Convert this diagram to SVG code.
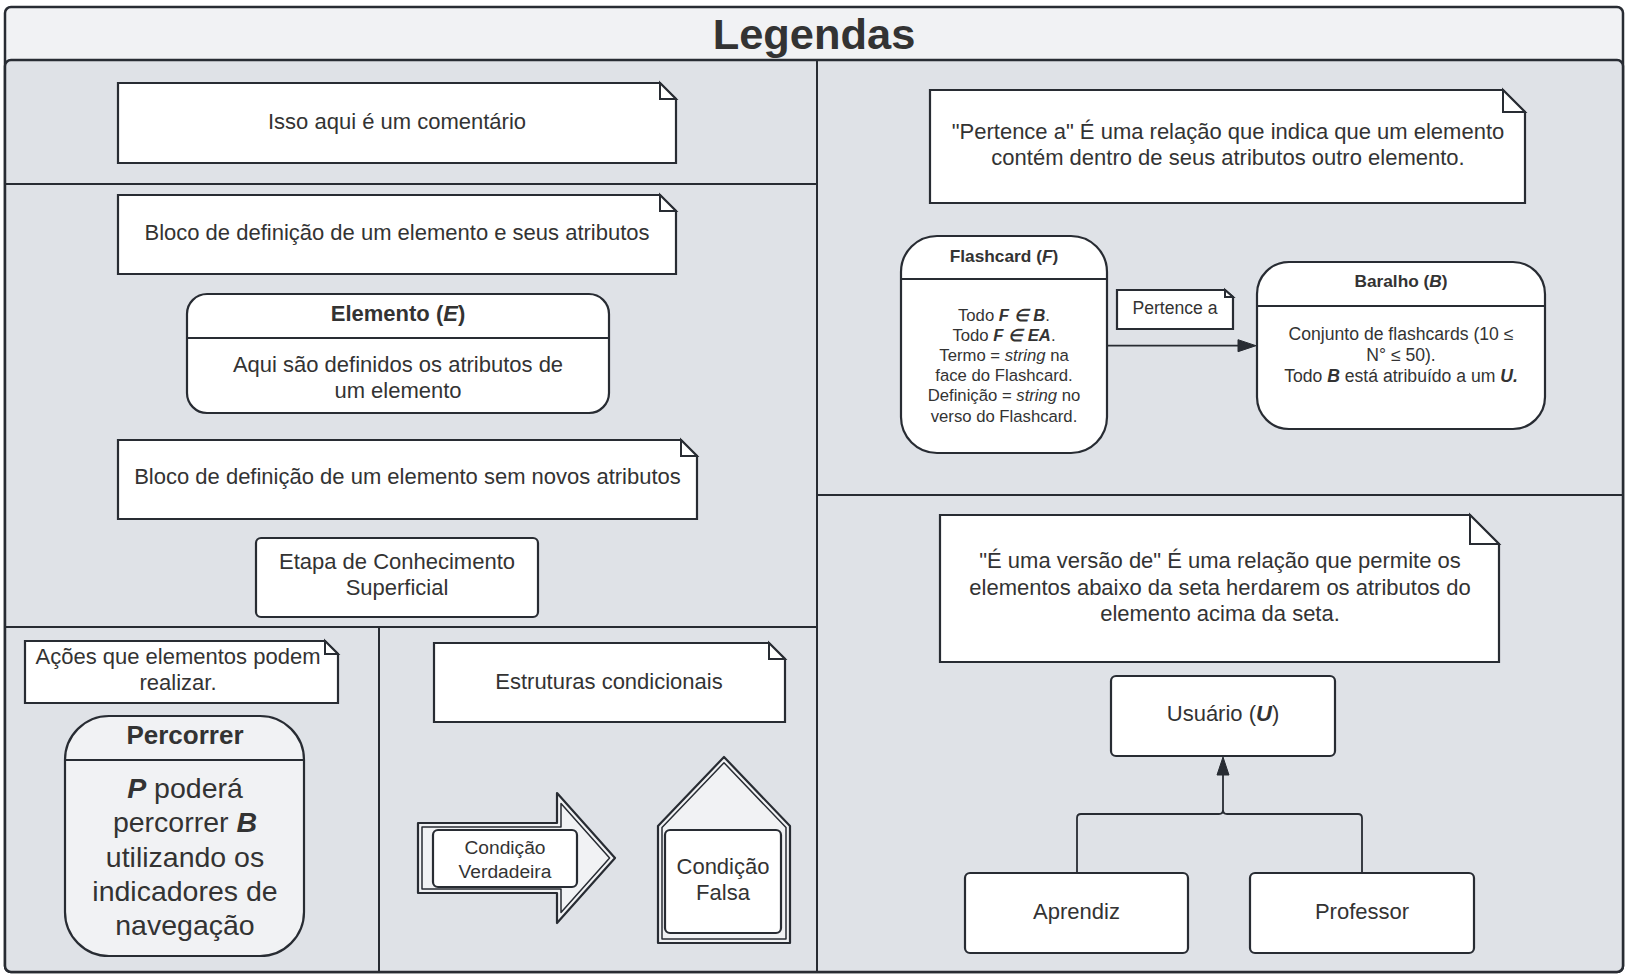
<svg xmlns="http://www.w3.org/2000/svg" width="1630" height="979" viewBox="0 0 1630 979">
<style>
text{font-family:"Liberation Sans",Arial,sans-serif;fill:#333333;text-anchor:middle}
.ln{fill:none;stroke:#282c33;stroke-width:2}
.box{fill:#ffffff;stroke:#282c33;stroke-width:2.2}
.lt{fill:#f1f2f4;stroke:#282c33;stroke-width:2.2}
.fold{fill:#ffffff;stroke:#282c33;stroke-width:2;stroke-linejoin:miter}
.con{fill:none;stroke:#282c33;stroke-width:1.8}
.ah{fill:#282c33;stroke:#282c33;stroke-width:1;stroke-linejoin:round}
.t22{font-size:22px}
.t17{font-size:17.6px}
.t16{font-size:16.7px}
.th{font-size:17.3px;font-weight:bold}
.b{font-weight:bold}
.i{font-style:italic}
.bi{font-weight:bold;font-style:italic}
</style>

<g id="frame">
<rect x="5" y="7" width="1618" height="965" rx="6" fill="#f1f2f4" stroke="#282c33" stroke-width="2.5"/>
<rect x="5" y="60" width="1618" height="912" rx="6" fill="#dfe2e7" stroke="#282c33" stroke-width="2.5"/>
<text x="814" y="49" class="b" style="font-size:43.4px">Legendas</text>
<path class="ln" d="M5,184H817M5,627H817M379,627V972M817,60V972M817,495H1623"/>
</g>

<g id="note-comentario">
<path class="box" d="M118,83H660L676,99V163H118Z"/>
<path class="fold" d="M660,83V99H676Z"/>
<text x="397" y="128.5" class="t22">Isso aqui é um comentário</text>
</g>

<g id="note-bloco-atributos">
<path class="box" d="M118,195H660L676,211V274H118Z"/>
<path class="fold" d="M660,195V211H676Z"/>
<text x="397" y="239.7" class="t22">Bloco de definição de um elemento e seus atributos</text>
</g>

<g id="node-elemento">
<rect class="box" x="187" y="294" width="422" height="119" rx="20"/>
<path class="ln" d="M187,338H609"/>
<text x="398" y="320.8" class="t22 b">Elemento (<tspan class="bi">E</tspan>)</text>
<text x="398" y="371.7" class="t22">Aqui são definidos os atributos de</text>
<text x="398" y="397.7" class="t22">um elemento</text>
</g>

<g id="note-bloco-sem">
<path class="box" d="M118,440H681L697,456V519H118Z"/>
<path class="fold" d="M681,440V456H697Z"/>
<text x="407.5" y="484" class="t22">Bloco de definição de um elemento sem novos atributos</text>
</g>

<g id="node-etapa">
<rect class="box" x="256" y="538" width="282" height="79" rx="5"/>
<text x="397" y="569.2" class="t22">Etapa de Conhecimento</text>
<text x="397" y="595.2" class="t22">Superficial</text>
</g>

<g id="note-acoes">
<path class="box" d="M25,641H325L338,654V703H25Z"/>
<path class="fold" d="M325,641V654H338Z"/>
<text x="178" y="663.9" class="t22">Ações que elementos podem</text>
<text x="178" y="689.8" class="t22">realizar.</text>
</g>

<g id="node-percorrer">
<rect class="lt" x="65" y="716" width="239" height="240" rx="44"/>
<path class="ln" d="M65,760H304"/>
<text x="185" y="744" class="b" style="font-size:26px">Percorrer</text>
<text x="185" y="798" style="font-size:28.5px"><tspan class="bi">P</tspan> poderá</text>
<text x="185" y="832.3" style="font-size:28.5px">percorrer <tspan class="bi">B</tspan></text>
<text x="185" y="866.6" style="font-size:28.5px">utilizando os</text>
<text x="185" y="901" style="font-size:28.5px">indicadores de</text>
<text x="185" y="935.2" style="font-size:28.5px">navegação</text>
</g>

<g id="note-estruturas">
<path class="box" d="M434,643H769L785,659V722H434Z"/>
<path class="fold" d="M769,643V659H785Z"/>
<text x="609" y="688.8" class="t22">Estruturas condicionais</text>
</g>

<g id="node-verdadeira">
<path class="lt" stroke-linejoin="round" d="M418,823H557V793L615,858L557,923V893H418Z"/>
<path fill="none" stroke="#282c33" stroke-width="1.5" stroke-linejoin="round" d="M422,827H561V803.5L609.6,858L561,912.5V889H422Z"/>
<rect class="box" x="433" y="830" width="144" height="57" rx="5"/>
<text x="505" y="853.5" style="font-size:19.2px">Condição</text>
<text x="505" y="877.5" style="font-size:19.2px">Verdadeira</text>
</g>

<g id="node-falsa">
<path class="lt" stroke-linejoin="round" d="M658,943V826L724,757L790,826V943Z"/>
<path fill="none" stroke="#282c33" stroke-width="1.5" stroke-linejoin="round" d="M662,939V827.6L724,762.8L786,827.6V939Z"/>
<rect class="box" x="665" y="830" width="116" height="103" rx="5"/>
<text x="723" y="873.8" class="t22">Condição</text>
<text x="723" y="899.8" class="t22">Falsa</text>
</g>

<g id="note-pertence">
<path class="box" d="M930,90H1503L1525,112V203H930Z"/>
<path class="fold" d="M1503,90V112H1525Z"/>
<text x="1228" y="138.9" class="t22">"Pertence a" É uma relação que indica que um elemento</text>
<text x="1228" y="164.9" class="t22">contém dentro de seus atributos outro elemento.</text>
</g>

<g id="node-flashcard">
<rect class="box" x="901" y="236" width="206" height="217" rx="36"/>
<path class="ln" d="M901,279H1107"/>
<text x="1004" y="262" class="th">Flashcard (<tspan class="bi">F</tspan>)</text>
<text x="1004" y="320.5" class="t16">Todo <tspan class="bi">F ∈ B</tspan>.</text>
<text x="1004" y="340.7" class="t16">Todo <tspan class="bi">F ∈ EA</tspan>.</text>
<text x="1004" y="360.9" class="t16">Termo = <tspan class="i">string</tspan> na</text>
<text x="1004" y="381.1" class="t16">face do Flashcard.</text>
<text x="1004" y="401.3" class="t16">Definição = <tspan class="i">string</tspan> no</text>
<text x="1004" y="421.5" class="t16">verso do Flashcard.</text>
</g>

<g id="label-pertence-a">
<path class="box" d="M1117,290H1225L1233,297V329H1117Z"/>
<path class="fold" d="M1225,290V297H1233Z"/>
<text x="1175" y="313.5" class="t17">Pertence a</text>
</g>

<g id="node-baralho">
<rect class="box" x="1257" y="262" width="288" height="167" rx="32"/>
<path class="ln" d="M1257,306H1545"/>
<text x="1401" y="287" class="th">Baralho (<tspan class="bi">B</tspan>)</text>
<text x="1401" y="340" class="t17">Conjunto de flashcards (10 ≤</text>
<text x="1401" y="360.8" class="t17">N° ≤ 50).</text>
<text x="1401" y="381.6" class="t17">Todo <tspan class="bi">B</tspan> está atribuído a um <tspan class="bi">U.</tspan></text>
</g>

<g id="note-versao">
<path class="box" d="M940,515H1470L1499,544V662H940Z"/>
<path class="fold" d="M1470,515V544H1499Z"/>
<text x="1220" y="568.2" class="t22">"É uma versão de" É uma relação que permite os</text>
<text x="1220" y="595.2" class="t22">elementos abaixo da seta herdarem os atributos do</text>
<text x="1220" y="621.2" class="t22">elemento acima da seta.</text>
</g>

<g id="node-usuario">
<rect class="box" x="1111" y="676" width="224" height="80" rx="5"/>
<text x="1223" y="721" class="t22">Usuário (<tspan class="bi">U</tspan>)</text>
</g>

<g id="node-aprendiz">
<rect class="box" x="965" y="873" width="223" height="80" rx="5"/>
<text x="1076.5" y="918.5" class="t22">Aprendiz</text>
</g>

<g id="node-professor">
<rect class="box" x="1250" y="873" width="224" height="80" rx="5"/>
<text x="1362" y="918.5" class="t22">Professor</text>
</g>

<g id="connectors">
<path class="con" d="M1107,345.7H1240"/>
<path class="ah" d="M1256,345.7L1238,339.7V351.7Z"/>
<path class="con" d="M1077,873V818Q1077,814 1081,814H1219Q1223,814 1223,810V774"/>
<path class="con" d="M1362,873V818Q1362,814 1358,814H1227Q1223,814 1223,810"/>
<path class="ah" d="M1223,757L1217,775H1229Z"/>
</g>
</svg>
